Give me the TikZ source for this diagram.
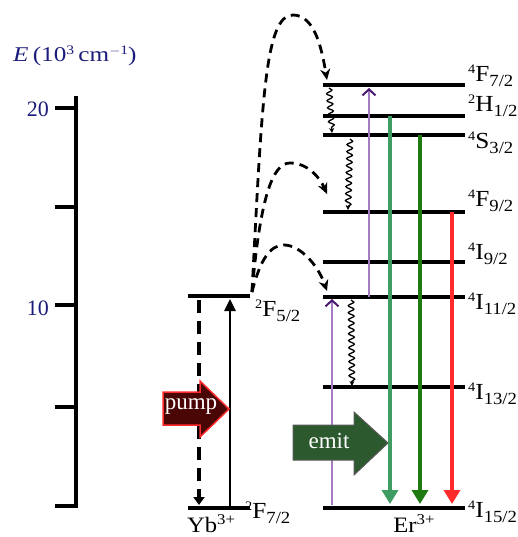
\documentclass[tikz,border=0pt]{standalone}
\usepackage{fontspec}
\usepackage{graphicx}
\setmainfont{Liberation Serif}
\usetikzlibrary{arrows.meta,decorations.pathmorphing}
\definecolor{navyc}{HTML}{1C1C7A}
\definecolor{purpl}{HTML}{A47CC4}
\definecolor{purpd}{HTML}{4A1A70}
\definecolor{greenA}{HTML}{3F9C62}
\definecolor{greenB}{HTML}{1F7A12}
\definecolor{redc}{HTML}{FF2A2A}
\definecolor{pumpc}{HTML}{4A0505}
\definecolor{emitc}{HTML}{2C5A2E}
\newcommand\lv[3]{\scalebox{1.1}[1]{\raisebox{8pt}{\fontsize{13}{13}\selectfont #1}#2\raisebox{-5pt}{\fontsize{17}{17}\selectfont #3}}}
\begin{document}
\begin{tikzpicture}[x=1pt,y=-1pt,
  lev/.style={line width=4.5pt},
  lab/.style={anchor=base west,inner sep=0pt,font=\fontsize{23}{24}\selectfont},
  num/.style={anchor=base east,inner sep=0pt,text=navyc,font=\fontsize{22}{24}\selectfont},
  tr/.style={line width=2.8pt,dash pattern=on 9pt off 6pt,-{Stealth[length=11pt,width=10pt]}},
  wav/.style={line width=1.3pt,decorate,decoration={snake,amplitude=2.8pt,segment length=7pt,post length=3pt},-{Stealth[length=5pt,width=5pt]}},
  em/.style={line width=4.5pt,-{Triangle[length=14pt,width=16pt]}},
  ab/.style={line width=1.5pt,purpl,-{Straight Barb[length=6pt,width=13pt,line width=2pt,color=purpd]}}]
\useasboundingbox (0,0) rectangle (518,537);
% axis
\draw[line width=4pt] (76,96) -- (76,508);
\foreach \yy in {108,207,305,407,506} \draw[line width=4pt] (55,\yy) -- (76,\yy);
\node[num] (n20) at (49,117) {20};
\node[num] (n10) at (49,315) {10};
\node[anchor=base west,inner sep=0pt,text=navyc,font=\fontsize{21}{22}\selectfont] (elab) at (13,62) {\scalebox{1.2}[1]{\textit{E}\,(10\raisebox{7pt}{\fontsize{13}{13}\selectfont 3}\,cm\raisebox{7pt}{\fontsize{13}{13}\selectfont $-$1})}};
% Yb levels
\draw[lev] (188,296) -- (250,296);
\draw[lev] (188,508) -- (250,508);
\node[lab] (f52) at (255,316) {\lv{2}{F}{5/2}};
\node[lab] (f72) at (245,518) {\lv{2}{F}{7/2}};
\node[anchor=base,inner sep=0pt,font=\fontsize{22}{24}\selectfont] (yb) at (211,532) {\scalebox{1.12}[1]{Yb\raisebox{8pt}{\fontsize{15}{15}\selectfont 3+}}};
\draw[line width=3.5pt,dash pattern=on 13pt off 8pt,-{Triangle[length=8pt,width=11pt]}] (199,300) -- (199,505);
\draw[line width=2.5pt,-{Triangle[length=12pt,width=11pt]}] (230,508) -- (230,299);
% Er levels
\foreach \yy in {85,116,135,212,262,297,387,508} \draw[lev] (323,\yy) -- (465,\yy);
\node[lab] (l1) at (468,82) {\lv{4}{F}{7/2}};
\node[lab] (l2) at (468,112) {\lv{2}{H}{1/2}};
\node[lab] (l3) at (468,149) {\lv{4}{S}{3/2}};
\node[lab] (l4) at (468,207) {\lv{4}{F}{9/2}};
\node[lab] (l5) at (468,259) {\lv{4}{I}{9/2}};
\node[lab] (l6) at (468,309) {\lv{4}{I}{11/2}};
\node[lab] (l7) at (468,399) {\lv{4}{I}{13/2}};
\node[lab] (l8) at (468,517) {\lv{4}{I}{15/2}};
\node[anchor=base,inner sep=0pt,font=\fontsize{22}{24}\selectfont] (er) at (414,532) {\scalebox{1.12}[1]{Er\raisebox{8pt}{\fontsize{15}{15}\selectfont 3+}}};
% absorption (purple)
\draw[ab] (369,297) -- (369,88);
\draw[ab] (332,505) -- (332,299);
% emissions
\draw[em,greenA] (390,116) -- (390,504);
\draw[em,greenB] (420,135) -- (420,504);
\draw[em,redc] (452,212) -- (452,504);
% non-radiative
\draw[wav] (329,88) -- (332,133);
\draw[wav] (350,139) -- (348,210);
\draw[wav] (351,300) -- (352,386);
% energy transfer
\draw[tr] (252,292) .. controls (262,100) and (265,15) .. (293,15) .. controls (315,15) and (322,50) .. (327,80);
\draw[tr] (252,292) .. controls (260,200) and (272,163) .. (290,163) .. controls (308,163) and (320,178) .. (327,194);
\draw[tr] (252,292) .. controls (260,260) and (270,245) .. (284,245) .. controls (300,245) and (318,265) .. (327,291);
% pump arrow
\draw[fill=pumpc,draw=redc,line width=1.5pt] (163,392) -- (200,392) -- (200,381) -- (229,409) -- (200,437) -- (200,425) -- (163,425) -- cycle;
\node[text=white,font=\fontsize{23}{24}\selectfont,inner sep=0pt] (pump) at (191,407) {pump};
% emit arrow
\draw[fill=emitc,draw=gray!70!black,line width=1pt] (293,425) -- (354,425) -- (354,412) -- (388,443) -- (354,475) -- (354,460) -- (293,460) -- cycle;
\node[text=white,font=\fontsize{23}{24}\selectfont,inner sep=0pt] (emit) at (329,441) {emit};
\end{tikzpicture}
\end{document}
